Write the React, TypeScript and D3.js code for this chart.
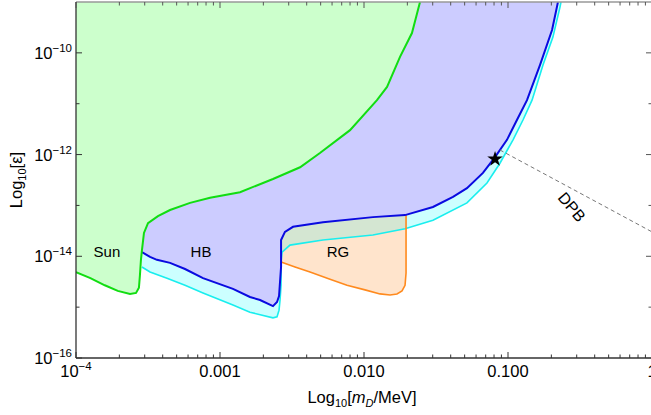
import * as d3 from "d3";

// all points are [log10(m_D / MeV), log10(epsilon)]
const sunBound: [number, number][] = [
  [-4.0, -14.31], [-3.9, -14.43], [-3.8, -14.57], [-3.71, -14.68], [-3.625, -14.74],
  [-3.583, -14.72], [-3.563, -14.62], [-3.556, -14.37], [-3.549, -14.07], [-3.542, -13.88],
  [-3.528, -13.54], [-3.5, -13.35], [-3.431, -13.21], [-3.347, -13.09], [-3.208, -12.95],
  [-3.069, -12.85], [-2.861, -12.74], [-2.632, -12.48], [-2.444, -12.25], [-2.306, -11.97],
  [-2.097, -11.52], [-1.91, -10.93], [-1.84, -10.67], [-1.75, -10.08], [-1.667, -9.61],
  [-1.611, -9.0],
];

const hbBound: [number, number][] = [
  [-3.542, -13.92], [-3.486, -14.01], [-3.438, -14.07], [-3.347, -14.13], [-3.243, -14.25],
  [-3.118, -14.43], [-2.91, -14.64], [-2.792, -14.8], [-2.722, -14.86], [-2.632, -14.98],
  [-2.604, -14.9], [-2.59, -14.78], [-2.576, -14.21], [-2.576, -13.68], [-2.549, -13.52],
  [-2.493, -13.42], [-2.285, -13.33], [-1.938, -13.23], [-1.715, -13.19], [-1.521, -13.03],
  [-1.382, -12.83], [-1.285, -12.66], [-1.174, -12.36], [-1.09, -12.05], [-1.007, -11.71],
  [-0.938, -11.32], [-0.868, -10.93], [-0.778, -10.24], [-0.694, -9.55], [-0.653, -9.0],
];

const hbLowBound: [number, number][] = [
  [-3.542, -14.21], [-3.486, -14.31], [-3.368, -14.43], [-3.243, -14.57], [-3.118, -14.72],
  [-2.91, -14.96], [-2.792, -15.1], [-2.632, -15.21], [-2.604, -15.19], [-2.59, -15.06],
  [-2.583, -14.86], [-2.576, -14.57], [-2.576, -14.11], [-2.569, -13.92], [-2.514, -13.78],
  [-2.285, -13.68], [-1.938, -13.58], [-1.715, -13.46], [-1.521, -13.29], [-1.285, -12.95],
  [-1.146, -12.56], [-1.056, -12.17], [-0.965, -11.71], [-0.896, -11.32], [-0.833, -10.93],
  [-0.757, -10.24], [-0.688, -9.69], [-0.639, -9.1], [-0.632, -9.0],
];

const rgBound: [number, number][] = [
  [-2.576, -14.11], [-2.479, -14.21], [-2.375, -14.31], [-2.236, -14.45], [-2.118, -14.57],
  [-1.993, -14.66], [-1.889, -14.74], [-1.819, -14.76], [-1.771, -14.74], [-1.736, -14.68],
  [-1.715, -14.57], [-1.708, -14.33], [-1.708, -13.68], [-1.708, -13.19],
];

const starPoint: [number, number] = [-1.09, -12.09];
const dpbLine: [number, number][] = [[-1.056, -11.91], [0, -13.52]];

const regionLabels = [
  { text: "Sun", at: [-3.785, -13.92] },
  { text: "HB", at: [-3.132, -13.92] },
  { text: "RG", at: [-2.181, -13.92] },
];
const dpbLabel = { text: "DPB", at: [-0.556, -13.03] };

const xMajor = [-4, -3, -2, -1, 0];
const xMajorLabels = ["10^-4", "0.001", "0.010", "0.100", "1"];
const yMajor = [-16, -14, -12, -10];
const yMinor = [-15, -13, -11];

const width = 651;
const height = 415;
const margin = { top: 2, left: 76, right: 652, bottom: 358 };

const font = "'Liberation Sans', Arial, Helvetica, sans-serif";

const x = d3.scaleLog().domain([1e-4, 1]).range([margin.left, margin.right]);
const y = d3.scaleLog().domain([1e-16, 1e-9]).range([margin.bottom, margin.top]);

const line = d3
  .line<[number, number]>()
  .x((d) => x(10 ** d[0]))
  .y((d) => y(10 ** d[1]));

const area = (pts: [number, number][]) => line(pts) + "Z";

function Pow({ base, exp }: { base: string; exp: string }) {
  return (
    <>
      <tspan>{base}</tspan>
      <tspan fontSize={11.5} dy={-7}>
        {exp}
      </tspan>
    </>
  );
}

export default function App() {
  const cyanArea: [number, number][] = [...hbLowBound, [hbLowBound[0][0], -9]];
  const blueArea: [number, number][] = [...hbBound, [hbBound[0][0], -9]];
  const greenArea: [number, number][] = [...sunBound, [-4, -9]];
  const last = rgBound[rgBound.length - 1];
  const rgArea: [number, number][] = [...rgBound, [last[0], -9], [rgBound[0][0], -9]];

  const minorX = x.ticks().filter((t) => Math.abs(Math.log10(t) - Math.round(Math.log10(t))) > 1e-6);
  const star = d3.symbol().type(d3.symbolStar).size(75)();

  return (
    <svg
      width={width}
      height={height}
      style={{ position: "absolute", left: 0, top: 0, background: "white" }}
      fontFamily={font}
    >
      <defs>
        <clipPath id="plot">
          <rect x={margin.left} y={margin.top} width={margin.right - margin.left} height={margin.bottom - margin.top} />
        </clipPath>
        <clipPath id="rg">
          <path d={area(rgArea)} />
        </clipPath>
      </defs>

      <g clipPath="url(#plot)">
        <path d={area(cyanArea)} fill="#ccffff" />
        <path d={area(rgArea)} fill="#ffe4cc" />
        <path d={area(cyanArea)} fill="#d4e6d2" clipPath="url(#rg)" />
        <path d={area(blueArea)} fill="#ccccff" />
        <path d={area(greenArea)} fill="#ccffcc" />

        <path d={line(hbLowBound) ?? ""} fill="none" stroke="#19eeee" strokeWidth={1.6} />
        <path d={line(rgBound) ?? ""} fill="none" stroke="#ff8a1e" strokeWidth={1.6} />
        <path d={line(hbBound) ?? ""} fill="none" stroke="#0a0ae0" strokeWidth={2} />
        <path d={line(sunBound) ?? ""} fill="none" stroke="#11dd11" strokeWidth={2} />

        <path d={line(dpbLine) ?? ""} fill="none" stroke="#777" strokeWidth={1} strokeDasharray="4,3" />
        <path
          d={star ?? ""}
          transform={`translate(${x(10 ** starPoint[0])},${y(10 ** starPoint[1])})`}
          fill="black"
        />
      </g>

      {regionLabels.map((l) => (
        <text
          key={l.text}
          x={x(10 ** l.at[0])}
          y={y(10 ** l.at[1])}
          dy="0.35em"
          textAnchor="middle"
          fontSize={15}
          fill="#000"
        >
          {l.text}
        </text>
      ))}
      <text
        transform={`translate(${x(10 ** dpbLabel.at[0])},${y(10 ** dpbLabel.at[1])}) rotate(50)`}
        dy="0.35em"
        textAnchor="middle"
        fontSize={16}
        fill="#000"
      >
        {dpbLabel.text}
      </text>

      {/* frame */}
      <line x1={margin.left} x2={margin.right} y1={margin.top} y2={margin.top} stroke="#999" strokeWidth={1.5} />
      <line x1={margin.right} x2={margin.right} y1={margin.top} y2={margin.bottom} stroke="#999" strokeWidth={1.5} />
      <line x1={margin.left} x2={margin.left} y1={margin.top} y2={margin.bottom} stroke="#333" strokeWidth={1.3} />
      <line x1={margin.left} x2={margin.right} y1={margin.bottom} y2={margin.bottom} stroke="#333" strokeWidth={1.3} />

      {/* x ticks */}
      {xMajor.map((e, i) => {
        const px = x(10 ** e);
        const lab = xMajorLabels[i];
        return (
          <g key={e}>
            <line x1={px} x2={px} y1={margin.bottom} y2={margin.bottom - 6} stroke="#333" />
            <line x1={px} x2={px} y1={margin.top} y2={margin.top + 6} stroke="#555" />
            <text x={px} y={377} textAnchor="middle" fontSize={16.5} fill="#000">
              {lab.startsWith("10^") ? <Pow base="10" exp={"\u2212" + lab.slice(4)} /> : lab}
            </text>
          </g>
        );
      })}
      {minorX.map((t) => (
        <g key={t}>
          <line x1={x(t)} x2={x(t)} y1={margin.bottom} y2={margin.bottom - 3.5} stroke="#333" />
          <line x1={x(t)} x2={x(t)} y1={margin.top} y2={margin.top + 3.5} stroke="#555" />
        </g>
      ))}

      {/* y ticks */}
      {yMajor.map((e) => {
        const py = y(10 ** e);
        return (
          <g key={e}>
            <line x1={margin.left} x2={margin.left + 6} y1={py} y2={py} stroke="#333" />
            <line x1={margin.right} x2={margin.right - 6} y1={py} y2={py} stroke="#555" />
            <text x={72} y={py + 6} textAnchor="end" fontSize={16.5} fill="#000">
              <Pow base="10" exp={"\u2212" + Math.abs(e)} />
            </text>
          </g>
        );
      })}
      {yMinor.map((e) => {
        const py = y(10 ** e);
        return (
          <g key={e}>
            <line x1={margin.left} x2={margin.left + 3.5} y1={py} y2={py} stroke="#333" />
            <line x1={margin.right} x2={margin.right - 3.5} y1={py} y2={py} stroke="#555" />
          </g>
        );
      })}

      {/* axis titles */}
      <text x={362} y={403} textAnchor="middle" fontSize={16.5} fill="#000">
        Log<tspan fontSize={11} dy={4}>10</tspan>
        <tspan dy={-4}>[</tspan>
        <tspan fontStyle="italic">m</tspan>
        <tspan fontSize={11} fontStyle="italic" dy={4}>D</tspan>
        <tspan dy={-4}>/MeV]</tspan>
      </text>
      <text transform="translate(22,180) rotate(-90)" textAnchor="middle" fontSize={16.5} fill="#000">
        Log<tspan fontSize={11} dy={4}>10</tspan>
        <tspan dy={-4}>[ε]</tspan>
      </text>
    </svg>
  );
}
